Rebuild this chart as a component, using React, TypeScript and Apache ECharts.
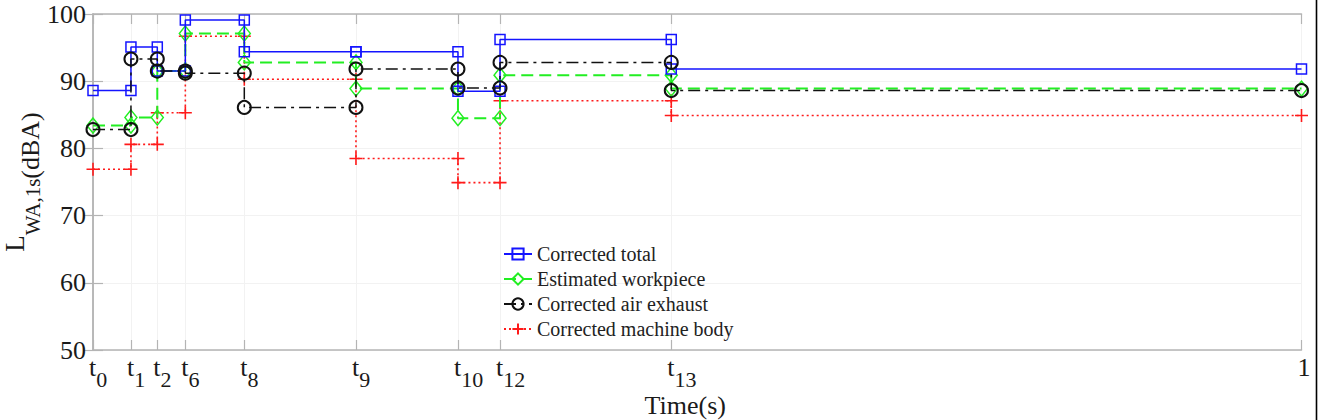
import React, { useEffect, useRef } from "react";
import * as echarts from "echarts";

// x tick subscripts (t0, t1, ...) and their positions on the normalised time axis (last tick is "1")
const tickSubs = ["0", "1", "2", "6", "8", "9", "10", "12", "13"];
const tickTimes = [0, 0.0314, 0.0532, 0.0764, 0.1252, 0.2176, 0.302, 0.3368, 0.4785, 1];
const yMin = 50;
const yMax = 100;
const yStep = 10;

const seriesNames = [
  "Corrected total",
  "Estimated workpiece",
  "Corrected air exhaust",
  "Corrected machine body",
];

// level held on each interval [t_i, t_i+1]
const correctedTotal = [88.6, 95.1, 91.5, 99.1, 94.4, 94.4, 88.5, 96.2, 91.8];
const estimatedWorkpiece = [83.4, 84.6, 91.5, 97.1, 92.8, 88.9, 84.5, 90.9, 88.9];
const correctedAirExhaust = [82.8, 93.3, 91.5, 91.2, 86.1, 91.8, 89.0, 92.8, 88.6];
const correctedMachineBody = [76.9, 80.6, 85.3, 96.7, 90.3, 78.5, 74.9, 87.1, 84.9];

const FONT = "'Liberation Serif', 'Times New Roman', serif";
const AXIS_GRAY = "#b4b4b4";

function steps(vals: number[]): [number, number][] {
  const pts: [number, number][] = [];
  vals.forEach((v, i) => {
    pts.push([tickTimes[i], v]);
    pts.push([tickTimes[i + 1], v]);
  });
  return pts;
}

function xLabel(v: number): string {
  const idx = tickTimes.findIndex((p) => Math.abs(p - v) < 1e-9);
  if (idx < 0) return "";
  if (idx >= tickSubs.length) return "{t|1}";
  return `{t|t}{s|${tickSubs[idx]}}`;
}

export default function App() {
  const ref = useRef<HTMLDivElement>(null);

  useEffect(() => {
    if (!ref.current) return;
    const chart = echarts.init(ref.current, null, { renderer: "svg" });

    const lineBase = { type: "line" as const, clip: false, animation: false };

    const xCommon = {
      type: "value" as const,
      min: 0,
      max: 1,
      axisLine: { show: true, lineStyle: { color: AXIS_GRAY, width: 1.5 } },
      axisTick: {
        show: true,
        inside: true,
        length: 10,
        customValues: tickTimes,
        lineStyle: { color: AXIS_GRAY, width: 1.2 },
      },
    };

    const yCommon = {
      type: "value" as const,
      min: yMin,
      max: yMax,
      interval: yStep,
      axisLine: { show: true, lineStyle: { color: AXIS_GRAY, width: 1.5 } },
      axisTick: { show: true, inside: true, length: 10, lineStyle: { color: AXIS_GRAY, width: 1.2 } },
    };

    const plusPath = "path://M0,5L10,5M5,0L5,10";

    chart.setOption({
      animation: false,
      backgroundColor: "#ffffff",
      grid: {
        left: 93,
        right: 18.5,
        top: 14,
        bottom: 70,
        containLabel: false,
        outerBoundsMode: "none",
      },
      legend: {
        orient: "vertical",
        left: 498,
        top: 239,
        itemWidth: 28,
        itemHeight: 14,
        itemGap: 5,
        data: seriesNames,
        textStyle: { fontFamily: FONT, fontSize: 20, color: "#222", lineHeight: 20 },
      },
      xAxis: [
        {
          ...xCommon,
          position: "bottom",
          name: "Time(s)",
          nameLocation: "middle",
          nameGap: 43,
          nameMoveOverlap: false,
          nameTextStyle: {
            fontFamily: FONT,
            fontSize: 26,
            lineHeight: 24,
            color: "#1a1a1a",
            padding: [0, 24, 0, 0],
          },
          splitLine: { show: true, lineStyle: { color: "#f2f2f2", width: 1 } },
          axisLabel: {
            show: true,
            customValues: tickTimes,
            margin: 4,
            align: "left",
            formatter: (v: number) => xLabel(v),
            rich: {
              t: {
                fontFamily: FONT,
                fontSize: 26,
                color: "#1a1a1a",
                verticalAlign: "top",
                padding: [0, 0, 0, -4],
              },
              s: { fontFamily: FONT, fontSize: 22, color: "#1a1a1a", verticalAlign: "bottom", lineHeight: 36 },
            },
          },
        },
        {
          ...xCommon,
          position: "top",
          axisLabel: { show: false },
          splitLine: { show: false },
        },
      ],
      yAxis: [
        {
          ...yCommon,
          position: "left",
          name: "{L|L}{s|WA,1s}{d|(dBA)}",
          nameLocation: "middle",
          nameRotate: 90,
          nameGap: 50,
          nameMoveOverlap: false,
          nameTextStyle: {
            rich: {
              L: { fontFamily: FONT, fontSize: 27, color: "#1a1a1a", verticalAlign: "top" },
              s: { fontFamily: FONT, fontSize: 21, color: "#1a1a1a", verticalAlign: "bottom", lineHeight: 42 },
              d: { fontFamily: FONT, fontSize: 26, color: "#1a1a1a", verticalAlign: "bottom" },
            },
          },
          splitLine: { show: true, lineStyle: { color: "#f2f2f2", width: 1 } },
          axisLabel: { show: true, margin: 7, fontFamily: FONT, fontSize: 26, color: "#1a1a1a" },
        },
        {
          ...yCommon,
          position: "right",
          axisLabel: { show: false },
          splitLine: { show: false },
        },
      ],
      graphic: [
        {
          type: "line",
          shape: { x1: 1316.5, y1: 0, x2: 1316.5, y2: 420 },
          style: { stroke: "#000", lineWidth: 1.6 },
          silent: true,
        },
      ],
      series: [
        {
          ...lineBase,
          name: seriesNames[0],
          data: steps(correctedTotal),
          symbol: "rect",
          symbolSize: 10,
          color: "#1414ff",
          lineStyle: { color: "#1414ff", width: 1.5, type: "solid" },
          itemStyle: { color: "rgba(255,255,255,0)", borderColor: "#1414ff", borderWidth: 1.5 },
          z: 5,
        },
        {
          ...lineBase,
          name: seriesNames[1],
          data: steps(estimatedWorkpiece),
          symbol: "diamond",
          symbolSize: [12, 15],
          color: "#22ee22",
          lineStyle: { color: "#22ee22", width: 2, type: [12, 6] },
          itemStyle: { color: "rgba(255,255,255,0)", borderColor: "#22ee22", borderWidth: 1.5 },
          z: 4,
        },
        {
          ...lineBase,
          name: seriesNames[2],
          data: steps(correctedAirExhaust),
          symbol: "circle",
          symbolSize: 13,
          color: "#111111",
          lineStyle: { color: "#111111", width: 1.5, type: [12, 5, 3, 5] },
          itemStyle: { color: "rgba(255,255,255,0)", borderColor: "#111111", borderWidth: 2 },
          z: 6,
        },
        {
          ...lineBase,
          name: seriesNames[3],
          data: steps(correctedMachineBody),
          symbol: plusPath,
          symbolSize: 13,
          color: "#ff1a1a",
          lineStyle: { color: "#ff1a1a", width: 1.6, type: [2, 3] },
          itemStyle: { color: "rgba(255,255,255,0)", borderColor: "#ff1a1a", borderWidth: 1.6 },
          z: 3,
        },
      ],
    });

    return () => {
      chart.dispose();
    };
  }, []);

  return (
    <div
      ref={ref}
      style={{ position: "fixed", left: 0, top: 0, width: 1320, height: 420, background: "#fff" }}
    />
  );
}
